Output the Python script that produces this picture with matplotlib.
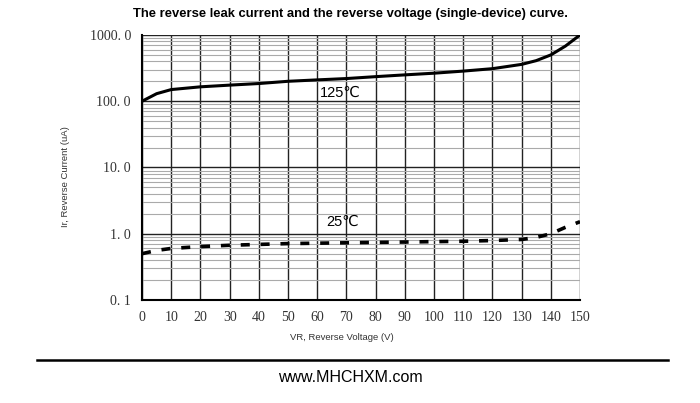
import matplotlib.pyplot as plt
from matplotlib.ticker import FixedLocator, NullFormatter

# Data
vr_125 = [0, 5, 10, 20, 30, 40, 50, 60, 70, 80, 90, 100, 110, 120, 130, 135, 140, 145, 150]
ir_125 = [100, 130, 150, 165, 175, 185, 200, 210, 220, 235, 250, 265, 285, 310, 360, 410, 500, 680, 1000]

vr_25 = [0, 5, 10, 20, 30, 40, 50, 60, 70, 80, 90, 100, 110, 120, 130, 135, 140, 145, 150]
ir_25 = [0.50, 0.56, 0.60, 0.64, 0.67, 0.69, 0.71, 0.72, 0.73, 0.74, 0.75, 0.76, 0.77, 0.79, 0.82, 0.88, 1.00, 1.25, 1.52]

x_ticks = list(range(0, 151, 10))
y_ticks = [0.1, 1, 10, 100, 1000]
y_labels = ['0. 1', '1. 0', '10. 0', '100. 0', '1000. 0']

fig = plt.figure(figsize=(7, 4.03), dpi=100)
ax = fig.add_axes([0.2029, 0.2556, 0.6257, 0.6576])

ax.set_yscale('log')
ax.set_xlim(0, 150)
ax.set_ylim(0.1, 1000)

# grid: minor horizontal lines gray, major black
minor = [m * 10.0 ** e for e in range(-1, 3) for m in range(2, 10)]
ax.yaxis.set_minor_locator(FixedLocator(minor))
ax.yaxis.set_minor_formatter(NullFormatter())
ax.set_yticks(y_ticks)
ax.set_yticklabels(y_labels)
ax.set_xticks(x_ticks)
ax.grid(True, which='minor', axis='y', color='#aaaaaa', linewidth=0.8)
ax.grid(True, which='major', axis='y', color='#222222', linewidth=1.0)
ax.grid(True, which='major', axis='x', color='#222222', linewidth=1.0)
ax.tick_params(which='both', length=0, pad=8)

for lbl in ax.get_xticklabels() + ax.get_yticklabels():
    lbl.set_family('Liberation Serif')
    lbl.set_fontsize(10)
    lbl.set_color('#333333')

for s in ['top', 'right']:
    ax.spines[s].set_visible(False)
ax.spines['left'].set_linewidth(1.5)
ax.spines['bottom'].set_linewidth(1.5)

ax.plot(vr_125, ir_125, color='black', linewidth=2.2)
ax.plot(vr_25, ir_25, color='black', linewidth=2.6, dashes=(2.5, 3))

ax.text(61, 118, '125\u2103', fontsize=10.5, family=['Liberation Sans', 'DejaVu Sans'])
ax.text(63, 1.32, '25\u2103', fontsize=10.5, family=['Liberation Sans', 'DejaVu Sans'])

# axis titles placed where the reference has them
fig.text(342 / 700, 1 - 338 / 403, 'VR, Reverse Voltage (V)', ha='center', va='center',
         fontsize=6.8, family='Liberation Sans', color='#333333')
fig.text(66 / 700, 1 - 177 / 403, 'Ir, Reverse Current (uA)', ha='center', va='center',
         rotation=90, fontsize=6.8, family='Liberation Sans', color='#333333')

fig.text(0.5, 0.965, 'The reverse leak current and the reverse voltage (single-device) curve.',
         ha='center', va='center', fontsize=9.4, fontweight='bold', family='Liberation Sans')

fig.add_artist(plt.Line2D([37 / 700, 668 / 700], [1 - 360 / 403, 1 - 360 / 403],
                          color='black', linewidth=1.8, transform=fig.transFigure))
fig.text(0.5, 1 - 377 / 403, 'www.MHCHXM.com', ha='center', va='center',
         fontsize=11.5, family='Liberation Sans')

fig.savefig('out.png', dpi=100)
